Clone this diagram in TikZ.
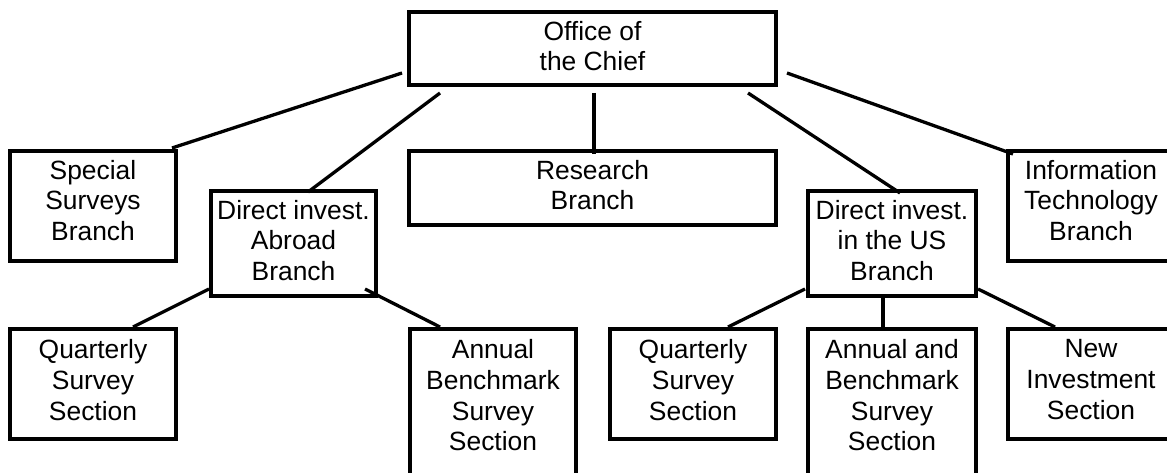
\documentclass[tikz,border=0pt]{standalone}
\usepackage{fontspec}
\setmainfont{Liberation Sans}
\usetikzlibrary{calc}
\begin{document}
\begin{tikzpicture}[x=1pt,y=-1pt,
  box/.style={draw, line width=4pt, rectangle, outer sep=0pt, inner sep=0pt},
  lbl/.style={anchor=north, align=center, inner sep=0pt, yshift=-9pt,
              font=\fontsize{26.4pt}{30.6pt}\selectfont},
  lbllow/.style={lbl, yshift=-1.5pt},
  wire/.style={line width=3.3pt}]
\fill[white] (0,0) rectangle (1167,473);
\useasboundingbox (0,0) rectangle (1167,473);

% top level
\node[box, minimum width=367, minimum height=73,
      label={[lbl]north:{Office of\\the Chief}}] (office) at (592.5,48.5) {};

% branches
\node[box, minimum width=166, minimum height=110,
      label={[lbl]north:{Special\\Surveys\\Branch}}] (special) at (93,206) {};
\node[box, minimum width=165, minimum height=105,
      label={[lbl]north:{Direct invest.\\Abroad\\Branch}}] (abroad) at (293.5,243.5) {};
\node[box, minimum width=367, minimum height=74,
      label={[lbl]north:{Research\\Branch}}] (research) at (592.5,188) {};
\node[box, minimum width=168, minimum height=105,
      label={[lbl]north:{Direct invest.\\in the US\\Branch}}] (us) at (892,243.5) {};
\node[box, minimum width=166, minimum height=110,
      label={[lbl]north:{Information\\Technology\\Branch}}] (info) at (1091,206) {};

% sections
\node[box, minimum width=166, minimum height=110,
      label={[lbllow]north:{Quarterly\\Survey\\Section}}] (qa) at (93,384) {};
\node[box, minimum width=166, minimum height=151,
      label={[lbllow]north:{Annual\\Benchmark\\Survey\\Section}}] (ab) at (493,404.5) {};
\node[box, minimum width=166, minimum height=110,
      label={[lbllow]north:{Quarterly\\Survey\\Section}}] (qu) at (693,384) {};
\node[box, minimum width=168, minimum height=151,
      label={[lbllow]north:{Annual and\\Benchmark\\Survey\\Section}}] (anb) at (892,404.5) {};
\node[box, minimum width=166, minimum height=110,
      label={[lbllow]north:{New\\Investment\\Section}}] (new) at (1091,384) {};

% connectors from the Office of the Chief
\draw[wire] ($(office.south west)+(-7,-12)$) -- ($(special.north east)+(-4,-3)$);
\draw[wire] ($(office.south west)+(31,8)$) -- ($(abroad.north)+(14.5,1)$);
\draw[wire] ($(office.south)+(1.5,8)$) -- ($(research.north)+(1.5,3)$);
\draw[wire] ($(office.south east)+(-28,8)$) -- ($(us.north)+(8,2)$);
\draw[wire] ($(office.south east)+(11,-12)$) -- ($(info.north west)+(5,3)$);

% connectors below the two direct investment branches
\draw[wire] ($(abroad.south west)+(-2,-7)$) -- ($(qa.north)+(40,-2)$);
\draw[wire] ($(abroad.south east)+(-11,-7)$) -- ($(ab.north west)+(30,-2)$);
\draw[wire] ($(us.south west)+(-3,-7)$) -- ($(qu.north east)+(-48,-2)$);
\draw[wire] ($(us.south)+(-9,1)$) -- ($(anb.north)+(-9,0)$);
\draw[wire] ($(us.south east)+(2,-7)$) -- ($(new.north west)+(47,-2)$);
\end{tikzpicture}
\end{document}
